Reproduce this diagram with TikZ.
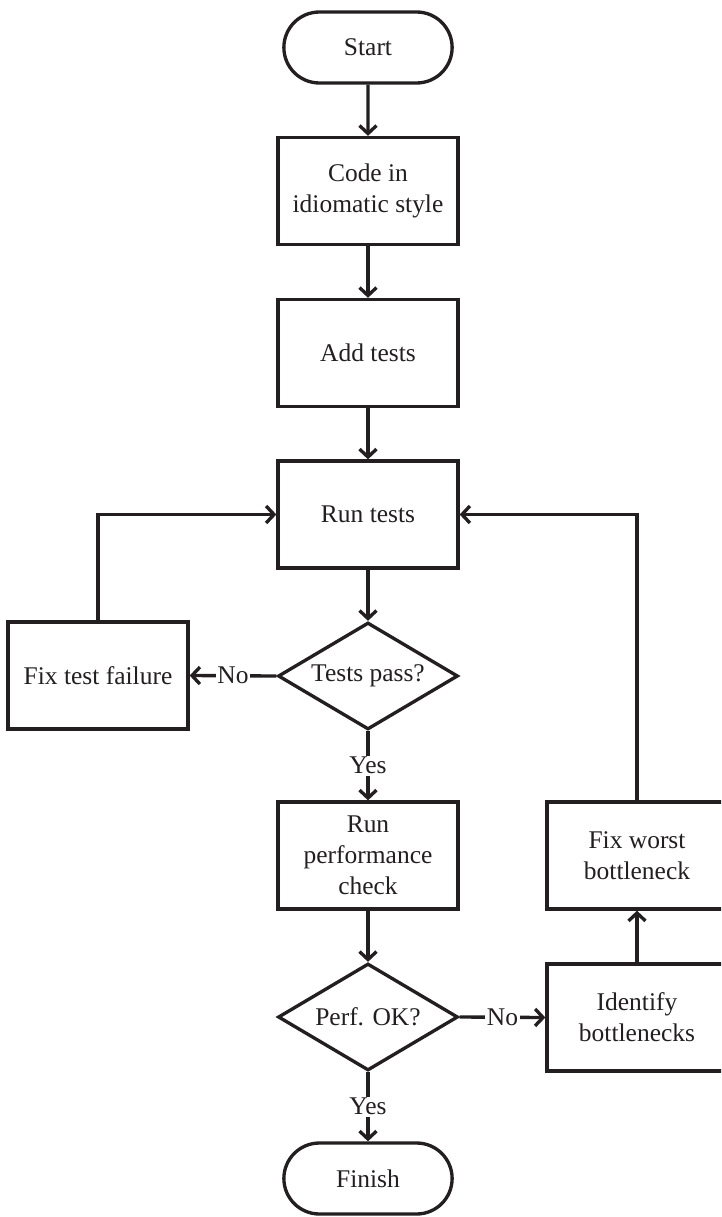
\documentclass[tikz,border=0pt]{standalone}
\usepackage{fontspec}
\setmainfont{Liberation Serif}
\usepackage{tikz}
\usetikzlibrary{arrows.meta,shapes.geometric,shapes.misc}
\definecolor{ink}{HTML}{231F20}

\tikzset{
  base/.style={draw=ink, line width=1.9pt, text=ink, align=center,
    font=\fontsize{14.5}{17.5}\selectfont},
  terminal/.style={base, rounded rectangle, minimum width=3.6cm, minimum height=1.42cm},
  box/.style={base, rectangle, minimum width=3.6cm, minimum height=2.14cm},
  decision/.style={base, diamond, aspect=1.68, inner sep=0pt,
    minimum width=3.6cm, minimum height=2.14cm},
  arr/.style={draw=ink, line width=1.9pt,
    -{Straight Barb[length=1.6mm, width=3.4mm]}},
  lbl/.style={fill=white, text=ink, inner sep=1pt,
    font=\fontsize{14.5}{17.5}\selectfont}
}

\begin{document}
\begin{tikzpicture}[x=0.02cm, y=-0.02cm]
  % page frame, pixel units (y grows downwards)
  \clip (0,0) rectangle (721,1217);

  % main column
  \node[terminal] (start)  at (368,47.5)  {Start};
  \node[box]      (code)   at (368,191)   {Code in\\idiomatic style};
  \node[box]      (add)    at (368,353)   {Add tests};
  \node[box]      (run)    at (368,514.5) {Run tests};
  \node[decision] (pass)   at (368,676)   {Tests pass?};
  \node[box]      (perf)   at (368,855.5) {Run\\performance\\check};
  \node[decision] (ok)     at (368,1017)  {Perf. OK?};
  \node[terminal] (finish) at (368,1178.5) {Finish};

  % side boxes
  \node[box] (fix)   at (98,675.5)  {Fix test failure};
  \node[box] (ident) at (637,1017.5) {Identify\\bottlenecks};
  \node[box] (worst) at (637,855.5)  {Fix worst\\bottleneck};

  % connectors
  \foreach \a/\b in {start/code, code/add, add/run, run/pass, perf/ok}
    \draw[arr] (\a) -- (\b);
  \draw[arr] (pass.west) -- node[lbl] {No} (fix.east);
  \draw[arr] (fix.north) |- (run.west);
  \draw[arr] (pass.south) -- node[lbl] {Yes} (perf.north);
  \draw[arr] (ok.east) -- node[lbl] {No} (ident.west);
  \draw[arr] (ident.north) -- (worst.south);
  \draw[arr] (worst.north) |- (run.east);
  \draw[arr] (ok.south) -- node[lbl] {Yes} (finish.north);
\end{tikzpicture}
\end{document}
